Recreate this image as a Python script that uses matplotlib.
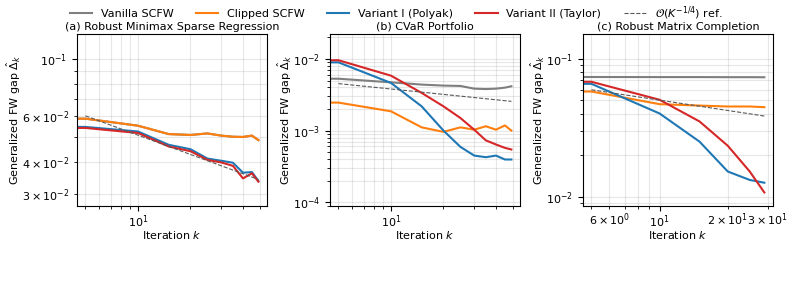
import numpy as np
import matplotlib
matplotlib.use("Agg")
import matplotlib.pyplot as plt

# iterations (k=0 sits off the log axis, the line runs flat into the frame)
iters_ab = [0, 5, 10, 15, 20, 25, 30, 35, 40, 45, 49]
iters_c = [0, 5, 10, 15, 20, 25, 29]

# (a) Robust Minimax Sparse Regression
vanilla_a = [0.0592, 0.0588, 0.0552, 0.0512, 0.0508, 0.0515, 0.0505, 0.0500, 0.0499, 0.0505, 0.0485]
clipped_a = [0.0592, 0.0588, 0.0552, 0.0512, 0.0508, 0.0515, 0.0505, 0.0500, 0.0499, 0.0505, 0.0485]
polyak_a = [0.0548, 0.0546, 0.0524, 0.0465, 0.0447, 0.0411, 0.0403, 0.0396, 0.0362, 0.0364, 0.0336]
taylor_a = [0.0543, 0.0541, 0.0517, 0.0458, 0.0439, 0.0406, 0.0397, 0.0385, 0.0344, 0.0360, 0.0334]

# (b) CVaR Portfolio
vanilla_b = [0.0053, 0.0053, 0.00472, 0.00439, 0.00425, 0.0042, 0.00385, 0.0038, 0.00385, 0.00398, 0.00416]
clipped_b = [0.00246, 0.00246, 0.00186, 0.00111, 0.00096, 0.00111, 0.00103, 0.00115, 0.00103, 0.00118, 0.00100]
polyak_b = [0.0090, 0.00897, 0.00463, 0.00218, 0.00100, 0.000593, 0.000448, 0.000425, 0.000448, 0.000395, 0.000395]
taylor_b = [0.0098, 0.0096, 0.00585, 0.00336, 0.00218, 0.00150, 0.00103, 0.00073, 0.00064, 0.000574, 0.000545]

# (c) Robust Matrix Completion
vanilla_c = [0.0741, 0.0741, 0.0740, 0.0740, 0.0739, 0.0739, 0.0738]
clipped_c = [0.0581, 0.0581, 0.0470, 0.0459, 0.0452, 0.0452, 0.0447]
polyak_c = [0.0664, 0.0661, 0.0402, 0.0251, 0.0152, 0.0132, 0.0126]
taylor_c = [0.0687, 0.0684, 0.0506, 0.0352, 0.0234, 0.0152, 0.0107]

# value of the K^{-1/4} reference at k=5 in each panel
ref_anchor = [0.0603, 0.00453, 0.0598]

titles = ["(a) Robust Minimax Sparse Regression", "(b) CVaR Portfolio", "(c) Robust Matrix Completion"]
ylims = [(0.0268, 0.126), (8.8e-5, 0.0225), (0.0085, 0.153)]

panels = [
    (iters_ab, vanilla_a, clipped_a, polyak_a, taylor_a),
    (iters_ab, vanilla_b, clipped_b, polyak_b, taylor_b),
    (iters_c, vanilla_c, clipped_c, polyak_c, taylor_c),
]

plt.rcParams['font.size'] = 8

fig, axes = plt.subplots(1, 3, figsize=(7.92, 2.86), dpi=100)
fig.subplots_adjust(left=0.097, right=0.976, top=0.882, bottom=0.279, wspace=0.33)

for i, ax in enumerate(axes):
    k, van, clp, pol, tay = panels[i]
    k = np.array(k, dtype=float)
    ax.plot(k, van, color='tab:gray', lw=1.5, label='Vanilla SCFW')
    ax.plot(k, clp, color='tab:orange', lw=1.5, label='Clipped SCFW')
    ax.plot(k, pol, color='tab:blue', lw=1.5, label='Variant I (Polyak)')
    ax.plot(k, tay, color='tab:red', lw=1.5, label='Variant II (Taylor)')
    kr = k[1:]
    ax.plot(kr, ref_anchor[i] * (kr / kr[0]) ** (-0.25), '--', color='0.35', lw=0.8,
            label=r'$\mathcal{O}(K^{-1/4})$ ref.')
    ax.set_xscale('log')
    ax.set_yscale('log')
    m = 10 ** (0.05 * np.log10(kr[-1] / kr[0]))
    ax.set_xlim(kr[0] / m, kr[-1] * m)
    ax.set_ylim(*ylims[i])
    ax.grid(True, which='both', alpha=0.3)
    ax.tick_params(axis='x', which='both', pad=2)
    ax.set_title(titles[i], fontsize=8, pad=3)
    ax.set_xlabel('Iteration $k$', labelpad=-1)
    ax.set_ylabel(r'Generalized FW gap $\hat{\Delta}_k$', labelpad=-1)

handles, labels = axes[0].get_legend_handles_labels()
fig.legend(handles, labels, loc='upper center', bbox_to_anchor=(0.5, 1.02), ncol=5,
           frameon=False, fontsize=8)

fig.savefig('out.png', dpi=100)
